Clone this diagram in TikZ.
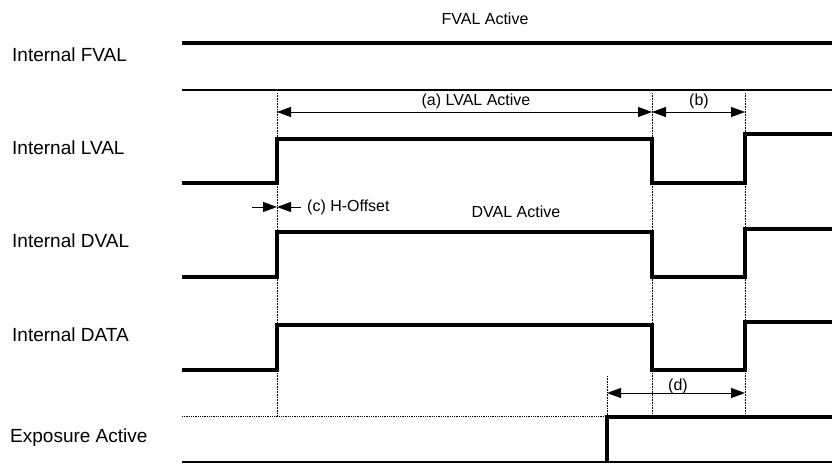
\documentclass[tikz,border=0pt]{standalone}
\usepackage{fontspec}
\setmainfont{Liberation Sans}
\usetikzlibrary{arrows.meta,positioning}

\begin{document}
\begin{tikzpicture}[x=1pt, y=-1pt, font=\fontsize{19}{21}\selectfont,
  >={Triangle[length=14pt,width=10pt]},
  sig/.style={line width=3.6pt},
  rule/.style={line width=1.2pt},
  guide/.style={densely dotted, line width=0.6pt},
  dim/.style={<->, line width=1pt},
  signame/.style={anchor=west, inner sep=0pt},
  note/.style={inner sep=0pt, font=\fontsize{16}{18}\selectfont}]
\useasboundingbox (0,0) rectangle (832,463);

% edge times
\coordinate (s) at (182,0);
\coordinate (r) at (277,0);
\coordinate (f) at (652,0);
\coordinate (q) at (745,0);
\coordinate (x) at (607,0);
\coordinate (e) at (832,0);

% signal names
\node[signame] (fval) at (12,55) {Internal FVAL};
\node[signame] (lval) at (12,148) {Internal LVAL};
\node[signame] (dval) at (12,241) {Internal DVAL};
\node[signame] (data) at (12,335) {Internal DATA};
\node[signame] (expo) at (10,438) {Exposure Active};

% FVAL
\node[note] (fact) at (485,19) {FVAL Active};
\draw[sig] (s |- 0,43) -- (e |- 0,43);
\draw[rule] (s |- 0,90) -- (e |- 0,90);

% guides
\draw[guide] (r |- 0,93) -- (r |- 0,415);
\draw[guide] (f |- 0,93) -- (f |- 0,415);
\draw[guide] (q |- 0,93) -- (q |- 0,415);
\draw[guide] (x |- 0,376) -- (x |- 0,415);

% LVAL
\draw[sig] (s |- 0,183) -- (r |- 0,183) -- (r |- 0,139) -- (f |- 0,139)
  -- (f |- 0,183) -- (q |- 0,183) -- (q |- 0,134) -- (e |- 0,134);
\draw[dim] (r |- 0,112) -- (f |- 0,112);
\draw[dim] (f |- 0,112) -- (q |- 0,112);
\node[note] (aact) at (476,101) {(a) LVAL Active};
\node[note] (bact) at (699,101) {(b)};

% H-Offset
\coordinate (hl) at (252,207);
\coordinate (hr) at (301,207);
\draw[->, line width=1pt] (hl) -- (r |- hl);
\draw[->, line width=1pt] (hr) -- (r |- hr);
\node[note, anchor=west] (hoff) at (307,207) {(c) H-Offset};
\node[note] (dact) at (516,212) {DVAL Active};

% DVAL
\draw[sig] (s |- 0,277) -- (r |- 0,277) -- (r |- 0,232) -- (f |- 0,232)
  -- (f |- 0,277) -- (q |- 0,277) -- (q |- 0,229) -- (e |- 0,229);

% DATA
\draw[sig] (s |- 0,370) -- (r |- 0,370) -- (r |- 0,325) -- (f |- 0,325)
  -- (f |- 0,370) -- (q |- 0,370) -- (q |- 0,322) -- (e |- 0,322);
\draw[dim] (x |- 0,393) -- (q |- 0,393);
\node[note] (dlbl) at (678,386) {(d)};

% Exposure
\draw[densely dotted, line width=0.8pt] (s |- 0,416) -- (x |- 0,416);
\draw[sig] (x |- 0,463) -- (x |- 0,417) -- (e |- 0,417);
\draw[rule] (s |- 0,462) -- (e |- 0,462);
\end{tikzpicture}
\end{document}
